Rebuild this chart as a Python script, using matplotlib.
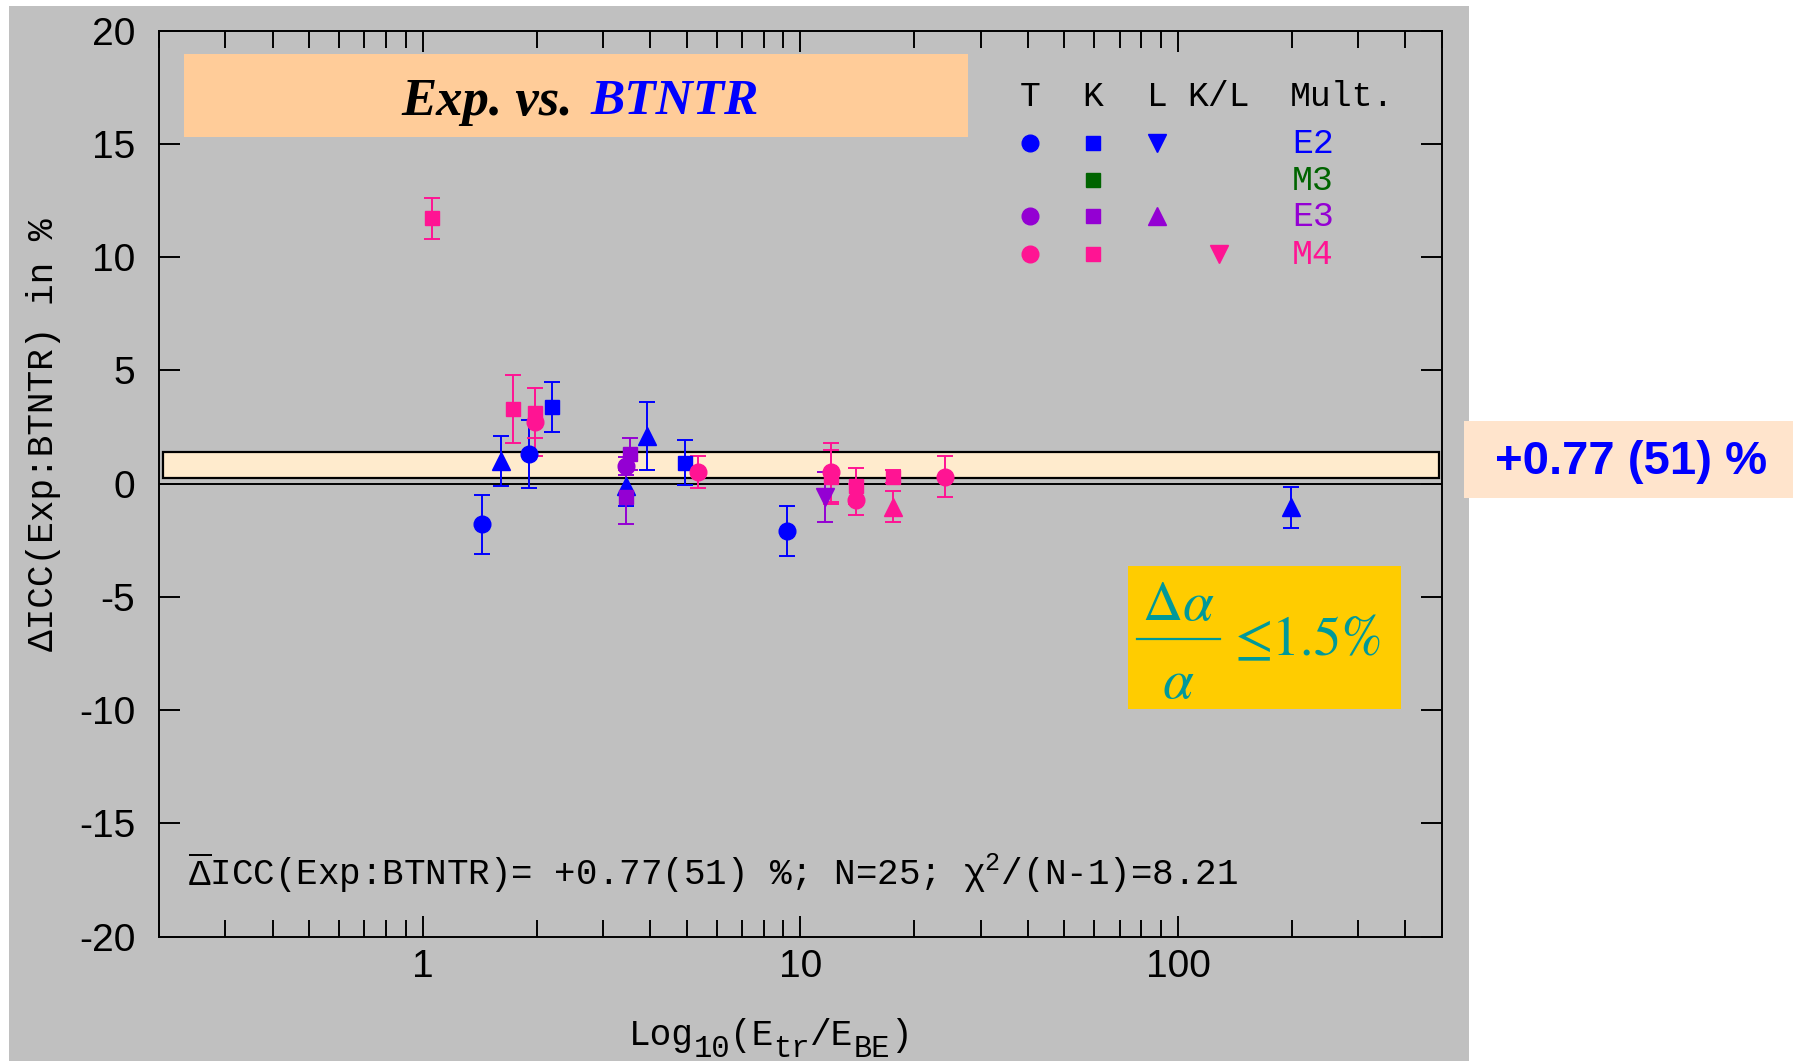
import matplotlib
matplotlib.use('Agg')
import matplotlib.pyplot as plt
from matplotlib.patches import Rectangle
from matplotlib.lines import Line2D
from matplotlib.transforms import offset_copy
from matplotlib.ticker import LogLocator, FuncFormatter, NullFormatter, MultipleLocator, NullLocator

plt.rcParams['axes.unicode_minus'] = False
plt.rcParams['mathtext.default'] = 'regular'
plt.rcParams['font.family'] = ['Liberation Sans', 'DejaVu Sans']

MONO = ['Liberation Mono', 'DejaVu Sans Mono']
SERIF = ['Liberation Serif', 'DejaVu Serif']
STIX = ['STIXGeneral', 'DejaVu Serif']

BLUE = '#0000FF'
GREEN = '#006400'
PURPLE = '#9400D3'
PINK = '#FF1493'
GRAY = '#C0C0C0'
TEAL = '#009999'

# ── data: E_tr/E_BE, ΔICC (%), uncertainty (%) ────────────────────────────────
# E2
e2_t_x = [1.43, 1.91, 9.2]
e2_t_y = [-1.8, 1.33, -2.1]
e2_t_err = [1.3, 1.5, 1.1]
e2_k_x = [2.20, 4.95]
e2_k_y = [3.4, 0.93]
e2_k_err = [1.1, 1.0]
e2_l_x = [1.61, 3.46, 3.92, 199.0]
e2_l_y = [1.0, -0.1, 2.1, -1.05]
e2_l_err = [1.1, 0.9, 1.5, 0.9]
# E3
e3_t_x = [3.46]
e3_t_y = [0.8]
e3_t_err = [0.4]
e3_k_x = [3.54, 3.46]
e3_k_y = [1.31, -0.6]
e3_k_err = [0.7, 1.2]
e3_l_x = [11.6]
e3_l_y = [-0.6]
e3_l_err = [1.1]
# M4
m4_k_x = [1.056, 1.73, 1.98, 12.07, 14.0, 17.6]
m4_k_y = [11.72, 3.3, 3.11, 0.3, -0.1, 0.31]
m4_k_err = [0.9, 1.5, 1.1, 1.2, 0.8, 0.3]
m4_t_x = [1.98, 5.35, 12.07, 14.0, 24.2]
m4_t_y = [2.74, 0.52, 0.5, -0.7, 0.31]
m4_t_err = [1.5, 0.7, 1.3, 0.7, 0.9]
m4_l_x = [17.6]
m4_l_y = [-1.01]
m4_l_err = [0.7]

band_lo, band_hi = 0.26, 1.40
mean_text = '+0.77 (51) %'

mult_labels = ['E2', 'M3', 'E3', 'M4']
mult_colors = [BLUE, GREEN, PURPLE, PINK]
# which legend columns (T, K, L, K/L) carry a marker for each multipolarity
legend_cols = ['T', 'K', 'L', 'K/L']
legend_marks = [['o', 's', 'v', None],
                [None, 's', None, None],
                ['o', 's', '^', None],
                ['o', 's', None, 'v']]

series = [
    (e2_k_x, e2_k_y, e2_k_err, BLUE, 's'),
    (e2_l_x, e2_l_y, e2_l_err, BLUE, '^'),
    (e2_t_x, e2_t_y, e2_t_err, BLUE, 'o'),
    (e3_k_x, e3_k_y, e3_k_err, PURPLE, 's'),
    (e3_l_x, e3_l_y, e3_l_err, PURPLE, 'v'),
    (e3_t_x, e3_t_y, e3_t_err, PURPLE, 'o'),
    (m4_k_x, m4_k_y, m4_k_err, PINK, 's'),
    (m4_l_x, m4_l_y, m4_l_err, PINK, '^'),
    (m4_t_x, m4_t_y, m4_t_err, PINK, 'o'),
]
msize = {'o': 12, 's': 10.5, '^': 13, 'v': 13}

fig = plt.figure(figsize=(17.96, 10.61), dpi=100)
fig.patch.set_facecolor('white')
fig.add_artist(Rectangle((0.005, 0), 0.813, 0.994, transform=fig.transFigure,
                         facecolor=GRAY, edgecolor='none', zorder=-5))

ax = fig.add_axes([0.0885, 0.1171, 0.7144, 0.854])
ax.set_facecolor(GRAY)
ax.set_xscale('log')
ax.set_xlim(0.2, 500)
ax.set_ylim(-20, 20)

ax.axhspan(band_lo, band_hi, xmin=0.003, xmax=0.998, facecolor='#FFEBCD',
           edgecolor='black', lw=1.6, zorder=1)
ax.axhline(0, color='black', lw=1.4, zorder=2)

for xs, ys, es, c, m in series:
    ax.errorbar(xs, ys, yerr=es, fmt=m, color=c, ms=msize[m], mec=c,
                capsize=5.5, elinewidth=1.4, capthick=1.4, zorder=3)

# ticks
ax.xaxis.set_major_locator(LogLocator(base=10))
ax.xaxis.set_minor_locator(LogLocator(base=10, subs=range(2, 10)))
ax.xaxis.set_major_formatter(FuncFormatter(lambda v, _: f'{v:g}'))
ax.xaxis.set_minor_formatter(NullFormatter())
ax.yaxis.set_major_locator(MultipleLocator(5))
ax.yaxis.set_minor_locator(NullLocator())
ax.tick_params(which='both', direction='in', top=True, right=True, width=1.4)
ax.tick_params(which='major', length=15, labelsize=28)
ax.tick_params(which='minor', length=12.5)
ax.tick_params(axis='y', pad=17)
ax.tick_params(axis='x', pad=9)
for s in ax.spines.values():
    s.set_linewidth(1.4)

# title box
ax.add_patch(Rectangle((0.0195, 0.8827), 0.611, 0.0916, transform=ax.transAxes,
                       facecolor='#FFCC99', edgecolor='none', zorder=2))
ax.text(0.3224, 0.921, 'Exp. vs.', transform=ax.transAxes, ha='right', va='center',
        fontsize=38, fontweight='bold', fontstyle='italic', family=SERIF, zorder=3)
ax.text(0.3367, 0.921, 'BTNTR', transform=ax.transAxes, ha='left', va='center',
        fontsize=37, fontweight='bold', fontstyle='italic', family=SERIF, color=BLUE, zorder=3)

# legend table
col_x = [0.679, 0.728, 0.778, 0.826]
row_y = [0.876, 0.835, 0.795, 0.753]
for cx, name in zip(col_x, legend_cols):
    ax.text(cx, 0.927, name, transform=ax.transAxes, ha='center', va='center',
            fontsize=25, family=MONO)
ax.text(0.8815, 0.927, 'Mult.', transform=ax.transAxes, ha='left', va='center',
        fontsize=25, family=MONO)
for ry, lab, c, marks in zip(row_y, mult_labels, mult_colors, legend_marks):
    for cx, m in zip(col_x, marks):
        if m:
            ax.plot([cx], [ry], m, color=c, ms=msize[m], transform=ax.transAxes,
                    clip_on=False, zorder=3)
    ax.text(0.883, ry, lab, transform=ax.transAxes, ha='left', va='center',
            fontsize=25, family=MONO, color=c)

# mean line text
ax.text(0.023, 0.0575,
        r'$\overline{\Delta}$ICC(Exp:BTNTR)= +0.77(51) %; N=25; $\chi^{2}$/(N-1)=8.21',
        transform=ax.transAxes, ha='left', va='baseline', fontsize=25.8, family=MONO)

# axis labels
fig.text(0.0242, 0.590, 'ΔICC(Exp:BTNTR) in %', rotation=90, ha='center', va='center',
         fontsize=26, family=MONO)
# x label with full-size, lowered subscripts (monospace: advance = 0.6 em)
xlab = [('Log', False), ('10', True), ('(E', False), ('tr', True),
        ('/E', False), ('BE', True), (')', False)]
off = 0.0
for piece, sub in xlab:
    fs = 22 if sub else 26
    tr = offset_copy(fig.transFigure, fig=fig, x=off, y=-9 if sub else 0, units='points')
    fig.text(0.350, 0.0154, piece, transform=tr, ha='left', va='baseline',
             fontsize=fs, family=MONO)
    off += 0.6 * fs * len(piece)

# right-hand mean box
fig.add_artist(Rectangle((0.8151, 0.5306), 0.1832, 0.0726, transform=fig.transFigure,
                         facecolor='#FFE4CC', edgecolor='none', zorder=1))
fig.text(0.908, 0.565, mean_text, ha='center', va='center', fontsize=34,
         fontweight='bold', color=BLUE, zorder=2)

# precision box: Δα / α ≤ 1.5%
fig.add_artist(Rectangle((0.628, 0.3318), 0.152, 0.1348, transform=fig.transFigure,
                         facecolor='#FFCC00', edgecolor='none', zorder=1))
fig.text(0.6559, 0.4157, r'$\Delta\mathit{\alpha}$', ha='center', va='baseline',
         fontsize=40, color=TEAL, family=STIX, math_fontfamily='stix', zorder=2)
fig.add_artist(Line2D([0.6331, 0.6793], [0.3977, 0.3977], transform=fig.transFigure,
                      color=TEAL, lw=1.6, zorder=2))
fig.text(0.6559, 0.3421, r'$\mathit{\alpha}$', ha='center', va='baseline',
         fontsize=40, color=TEAL, family=STIX, math_fontfamily='stix', zorder=2)
fig.text(0.6871, 0.3827, '≤1.5%', ha='left', va='baseline',
         fontsize=40, color=TEAL, family=STIX, zorder=2)

fig.savefig('out.png', dpi=100)
